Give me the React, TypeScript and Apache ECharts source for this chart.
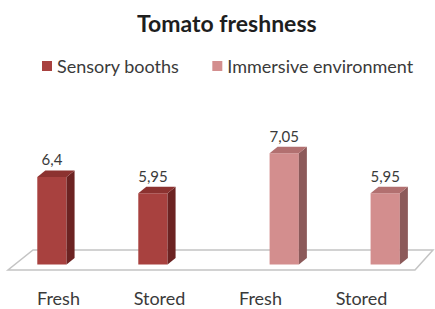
import React, { useEffect, useRef } from "react";
import * as echarts from "echarts";

const title = "Tomato freshness";
const categories = ["Fresh", "Stored", "Fresh", "Stored"];
const seriesNames = ["Sensory booths", "Immersive environment"];
const sensoryBooths: (number | null)[] = [6.4, 5.95, null, null];
const immersiveEnv: (number | null)[] = [null, null, 7.05, 5.95];
const yMin = 4;
const yMax = 8;

const palettes = [
  { front: "#a8413f", side: "#6c2322", top: "#8c3230" },
  { front: "#d38e8e", side: "#8c5a5a", top: "#b27070" },
];
const slotOffsets = [-0.065, 0.235];

function toPairs(arr: (number | null)[]) {
  const out: number[][] = [];
  arr.forEach((v, i) => {
    if (v !== null) out.push([i, v]);
  });
  return out;
}

function makeRenderItem(si: number) {
  const pal = palettes[si];
  return (params: any, api: any) => {
    const idx = api.value(0);
    const val = api.value(1);
    const top = api.coord([idx, val]);
    const base = api.coord([idx, yMin]);
    const band = api.size([1, 0])[0];
    const w = band * 0.29;
    const cx = top[0] + slotOffsets[si] * band;
    const x0 = cx - w / 2;
    const x1 = cx + w / 2;
    const dx = 8;
    const dy = -6.5;
    return {
      type: "group",
      children: [
        {
          type: "rect",
          shape: { x: x0, y: top[1], width: w, height: base[1] - top[1] },
          style: { fill: pal.front },
        },
        {
          type: "polygon",
          shape: {
            points: [
              [x1, top[1]],
              [x1 + dx, top[1] + dy],
              [x1 + dx, base[1] + dy],
              [x1, base[1]],
            ],
          },
          style: { fill: pal.side },
        },
        {
          type: "polygon",
          shape: {
            points: [
              [x0, top[1]],
              [x1, top[1]],
              [x1 + dx, top[1] + dy],
              [x0 + dx, top[1] + dy],
            ],
          },
          style: { fill: pal.top },
        },
        {
          type: "text",
          x: cx,
          y: top[1] + dy - 11,
          style: {
            text: String(val).replace(".", ","),
            align: "center",
            verticalAlign: "middle",
            fill: "#3a3a3a",
            font: "15px Lato",
          },
        },
      ],
    };
  };
}

export default function App() {
  const ref = useRef<HTMLDivElement>(null);
  useEffect(() => {
    if (!ref.current) return;
    const chart = echarts.init(ref.current, undefined, { renderer: "svg" });
    chart.setOption({
      animation: false,
      backgroundColor: "#ffffff",
      title: {
        text: title,
        left: 132,
        top: 6,
        textStyle: { fontFamily: "Lato", fontWeight: "bold", fontSize: 23, color: "#1e1e1e" },
      },
      legend: {
        left: 37,
        top: 52,
        itemWidth: 10,
        itemHeight: 10,
        itemGap: 33,
        icon: "rect",
        textStyle: { fontFamily: "Lato", fontSize: 18, color: "#3a3a3a" },
        data: seriesNames,
      },
      grid: { left: 8, right: 23, top: 118.5, bottom: 44.5 },
      xAxis: {
        type: "category",
        data: categories,
        axisLine: { show: false },
        axisTick: { show: false },
        axisLabel: { fontFamily: "Lato", fontSize: 18, color: "#3a3a3a", margin: 24 },
      },
      yAxis: {
        type: "value",
        min: yMin,
        max: yMax,
        show: false,
        splitLine: { show: false },
      },
      graphic: [
        {
          type: "polygon",
          z: 0,
          shape: { points: [[8, 270], [415, 270], [433, 250], [33, 250]] },
          style: { fill: "#ffffff", stroke: "#c4c4c4", lineWidth: 1.5 },
        },
      ],
      series: [
        {
          type: "custom",
          name: seriesNames[0],
          z: 5,
          itemStyle: { color: palettes[0].front },
          renderItem: makeRenderItem(0),
          data: toPairs(sensoryBooths),
        },
        {
          type: "custom",
          name: seriesNames[1],
          z: 5,
          itemStyle: { color: palettes[1].front },
          renderItem: makeRenderItem(1),
          data: toPairs(immersiveEnv),
        },
      ],
    });
    return () => chart.dispose();
  }, []);
  return <div ref={ref} style={{ width: 435, height: 309, position: "fixed", left: 0, top: 0 }} />;
}
